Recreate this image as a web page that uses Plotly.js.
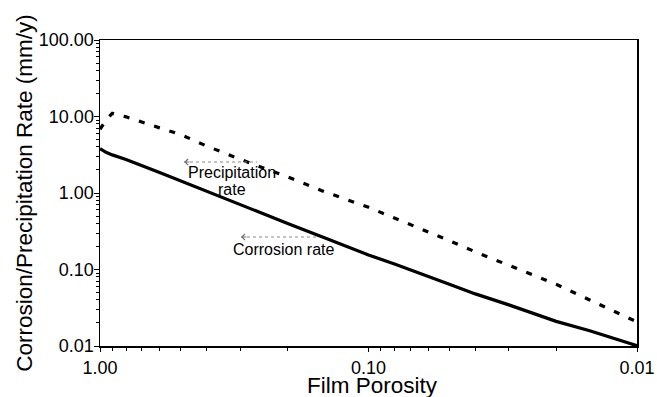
<!DOCTYPE html>
<html>
<head>
<meta charset="utf-8">
<script src="https://cdn.plot.ly/plotly-3.0.1.min.js"></script>
<style>
  html, body { margin: 0; padding: 0; background: #fff; }
  #chart { width: 657px; height: 397px; }
</style>
</head>
<body>
<div id="chart"></div>
<script>
// Film porosity (x, log scale, decreasing to the right)
const porosity = [1, 0.95, 0.9, 0.8, 0.6, 0.5, 0.4, 0.3, 0.2, 0.15, 0.1, 0.08, 0.06, 0.05, 0.04, 0.03, 0.02, 0.015, 0.01];
// Corrosion rate, mm/y (solid curve)
const corrosionRate = [3.8, 3.4, 3.15, 2.75, 1.85, 1.43, 1.05, 0.70, 0.40, 0.27, 0.155, 0.118, 0.080, 0.064, 0.048, 0.0345, 0.021, 0.0158, 0.0101];
// Precipitation rate, mm/y (dashed curve)
const precipitationRate = [6.8, 9.0, 11.0, 9.9, 7.1, 5.8, 4.1, 2.75, 1.62, 1.08, 0.65, 0.47, 0.315, 0.238, 0.17, 0.113, 0.064, 0.040, 0.0206];

// Axis ticks
const xTickVals = [1, 0.1, 0.01];
const xTickText = ['1.00', '0.10', '0.01'];
const yTickVals = [0.01, 0.1, 1, 10, 100];
const yTickText = ['0.01', '0.10', '1.00', '10.00', '100.00'];
const minorMultipliers = [2, 3, 4, 5, 6, 7, 8, 9];

function minorTicks(decades) {
  const out = [];
  decades.forEach(d => minorMultipliers.forEach(m => out.push(d * m)));
  return out;
}

const FONT = 'Liberation Sans, Arial, Helvetica, sans-serif';
const LABEL_FONT = { family: FONT, size: 16, color: '#000' };

const traces = [
  {
    x: porosity, y: corrosionRate, type: 'scatter', mode: 'lines',
    name: 'Corrosion rate',
    line: { color: '#000', width: 3.2 },
    hoverinfo: 'x+y'
  },
  {
    x: porosity, y: precipitationRate, type: 'scatter', mode: 'lines',
    name: 'Precipitation rate',
    line: { color: '#000', width: 3.2, dash: '6px,10px' },
    hoverinfo: 'x+y'
  }
];

const layout = {
  width: 657, height: 397,
  margin: { l: 100, r: 20, t: 40, b: 51 },
  paper_bgcolor: '#fff', plot_bgcolor: '#fff',
  showlegend: false,
  font: { family: FONT, color: '#000' },
  xaxis: {
    type: 'log', range: [0, -2], autorange: false,
    showgrid: false, zeroline: false,
    showline: true, mirror: true, linecolor: '#000', linewidth: 1.5,
    ticks: 'outside', ticklen: 4, tickwidth: 1, tickcolor: '#000',
    tickvals: xTickVals, ticktext: xTickText,
    tickfont: { family: FONT, size: 18, color: '#000' },
    ticklabelstandoff: 1,
    minor: { tickvals: minorTicks([0.1, 0.01]), ticks: 'outside', ticklen: 3, tickwidth: 1, tickcolor: '#000', showgrid: false },
    automargin: false
  },
  yaxis: {
    type: 'log', range: [-2, 2], autorange: false,
    showgrid: false, zeroline: false,
    showline: true, mirror: true, linecolor: '#000', linewidth: 1.5,
    ticks: 'outside', ticklen: 5, tickwidth: 1, tickcolor: '#000',
    tickvals: yTickVals, ticktext: yTickText,
    tickfont: { family: FONT, size: 18, color: '#000' },
    ticklabelstandoff: -4,
    minor: { tickvals: minorTicks([0.01, 0.1, 1, 10]), ticks: 'outside', ticklen: 3, tickwidth: 1, tickcolor: '#000', showgrid: false },
    title: { text: 'Corrosion/Precipitation Rate (mm/y)', font: { family: FONT, size: 22.5, color: '#000' } },
    automargin: false
  },
  shapes: [
    // dotted arrow shafts
    { type: 'line', xref: 'paper', yref: 'paper', x0: 0.1564, x1: 0.2924, y0: 0.6013, y1: 0.6013,
      line: { color: '#888', width: 1, dash: 'dot' } },
    { type: 'line', xref: 'paper', yref: 'paper', x0: 0.2626, x1: 0.4041, y0: 0.3562, y1: 0.3562,
      line: { color: '#888', width: 1, dash: 'dot' } }
  ],
  annotations: [
    // x-axis title, set just under the tick labels
    { x: 0.5075, y: -0.130, xref: 'paper', yref: 'paper', xanchor: 'center', yanchor: 'middle',
      text: 'Film Porosity', showarrow: false, font: { family: FONT, size: 22.5, color: '#000' } },
    { x: -0.492, y: 0.262, xref: 'x', yref: 'y', text: 'Precipitation', showarrow: false, font: LABEL_FONT },
    { x: -0.492, y: 0.052, xref: 'x', yref: 'y', text: 'rate', showarrow: false, font: LABEL_FONT },
    { x: -0.682, y: -0.745, xref: 'x', yref: 'y', text: 'Corrosion rate', showarrow: false, font: LABEL_FONT },
    // arrow heads pointing left
    { x: -0.313, y: 0.405, xref: 'x', yref: 'y', text: '', showarrow: true,
      ax: 7, ay: 0, arrowhead: 4, arrowsize: 1.2, arrowwidth: 1, arrowcolor: '#777' },
    { x: -0.525, y: -0.575, xref: 'x', yref: 'y', text: '', showarrow: true,
      ax: 7, ay: 0, arrowhead: 4, arrowsize: 1.2, arrowwidth: 1, arrowcolor: '#777' }
  ]
};

Plotly.newPlot('chart', traces, layout, { displayModeBar: false, staticPlot: true });
</script>
</body>
</html>
